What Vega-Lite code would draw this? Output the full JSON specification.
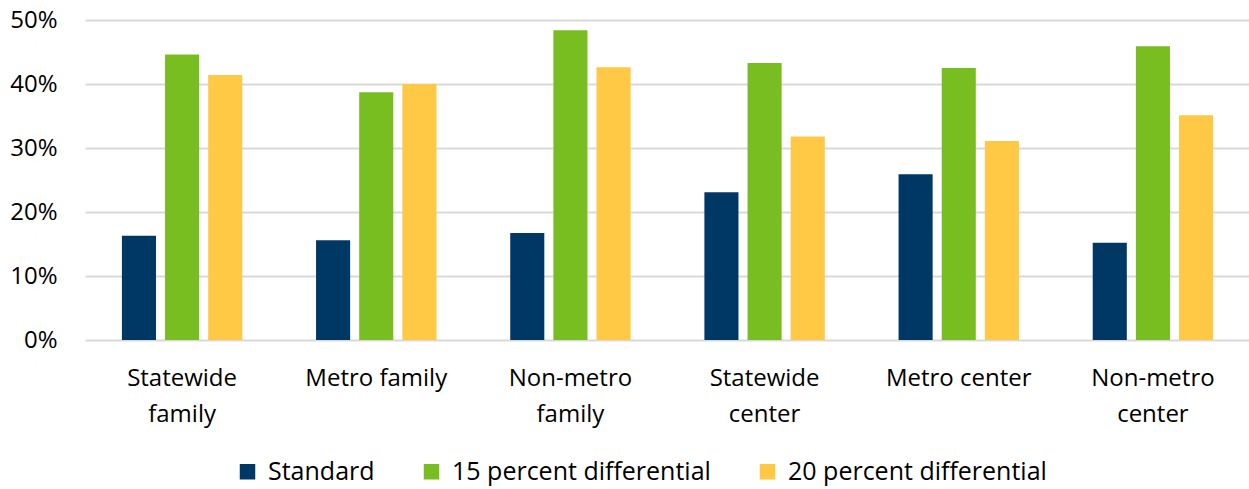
{
  "$schema": "https://vega.github.io/schema/vega-lite/v6.json",
  "width": 1165,
  "height": 320,
  "autosize": {"type": "none"},
  "padding": {"left": 85, "top": 20, "right": 0, "bottom": 149},
  "background": "white",
  "config": {
    "view": {"stroke": null},
    "font": "Open Sans"
  },
  "data": {
    "values": [
      {"category": "Statewide family", "series": "Standard", "value": 0.163},
      {"category": "Statewide family", "series": "15 percent differential", "value": 0.446},
      {"category": "Statewide family", "series": "20 percent differential", "value": 0.414},
      {"category": "Metro family", "series": "Standard", "value": 0.156},
      {"category": "Metro family", "series": "15 percent differential", "value": 0.387},
      {"category": "Metro family", "series": "20 percent differential", "value": 0.400},
      {"category": "Non-metro family", "series": "Standard", "value": 0.167},
      {"category": "Non-metro family", "series": "15 percent differential", "value": 0.484},
      {"category": "Non-metro family", "series": "20 percent differential", "value": 0.426},
      {"category": "Statewide center", "series": "Standard", "value": 0.231},
      {"category": "Statewide center", "series": "15 percent differential", "value": 0.433},
      {"category": "Statewide center", "series": "20 percent differential", "value": 0.318},
      {"category": "Metro center", "series": "Standard", "value": 0.259},
      {"category": "Metro center", "series": "15 percent differential", "value": 0.425},
      {"category": "Metro center", "series": "20 percent differential", "value": 0.311},
      {"category": "Non-metro center", "series": "Standard", "value": 0.152},
      {"category": "Non-metro center", "series": "15 percent differential", "value": 0.459},
      {"category": "Non-metro center", "series": "20 percent differential", "value": 0.351}
    ]
  },
  "mark": {"type": "bar"},
  "encoding": {
    "x": {
      "field": "category",
      "type": "nominal",
      "sort": null,
      "title": null,
      "scale": {"paddingInner": 0.38, "paddingOuter": 0.19},
      "axis": {
        "labelAngle": 0,
        "domain": false,
        "ticks": false,
        "labelFontSize": 24,
        "labelColor": "#000000",
        "labelPadding": 26,
        "labelLineHeight": 36,
        "labelLimit": 300,
        "labelExpr": "indexof(datum.label, 'Metro') == 0 ? datum.label : split(datum.label, ' ')"
      }
    },
    "xOffset": {
      "field": "series",
      "type": "nominal",
      "sort": ["Standard", "15 percent differential", "20 percent differential"],
      "scale": {"paddingInner": 0.21, "paddingOuter": 0}
    },
    "y": {
      "field": "value",
      "type": "quantitative",
      "title": null,
      "scale": {"domain": [0, 0.5], "nice": false},
      "axis": {
        "format": ".0%",
        "values": [0, 0.1, 0.2, 0.3, 0.4, 0.5],
        "labelOverlap": false,
        "domain": false,
        "ticks": false,
        "gridColor": "#d9d9d9",
        "gridWidth": 2,
        "labelFontSize": 24,
        "labelColor": "#000000",
        "labelPadding": 28
      }
    },
    "color": {
      "field": "series",
      "type": "nominal",
      "sort": ["Standard", "15 percent differential", "20 percent differential"],
      "scale": {
        "domain": ["Standard", "15 percent differential", "20 percent differential"],
        "range": ["#003865", "#78BE21", "#FFC845"]
      },
      "legend": {
        "title": null,
        "orient": "none",
        "legendX": 150,
        "legendY": 439,
        "direction": "horizontal",
        "symbolType": "square",
        "symbolSize": 240,
        "symbolStrokeWidth": 0,
        "labelFontSize": 25,
        "labelLimit": 400,
        "labelColor": "#000000",
        "columnPadding": 44,
        "labelOffset": 8
      }
    }
  }
}
